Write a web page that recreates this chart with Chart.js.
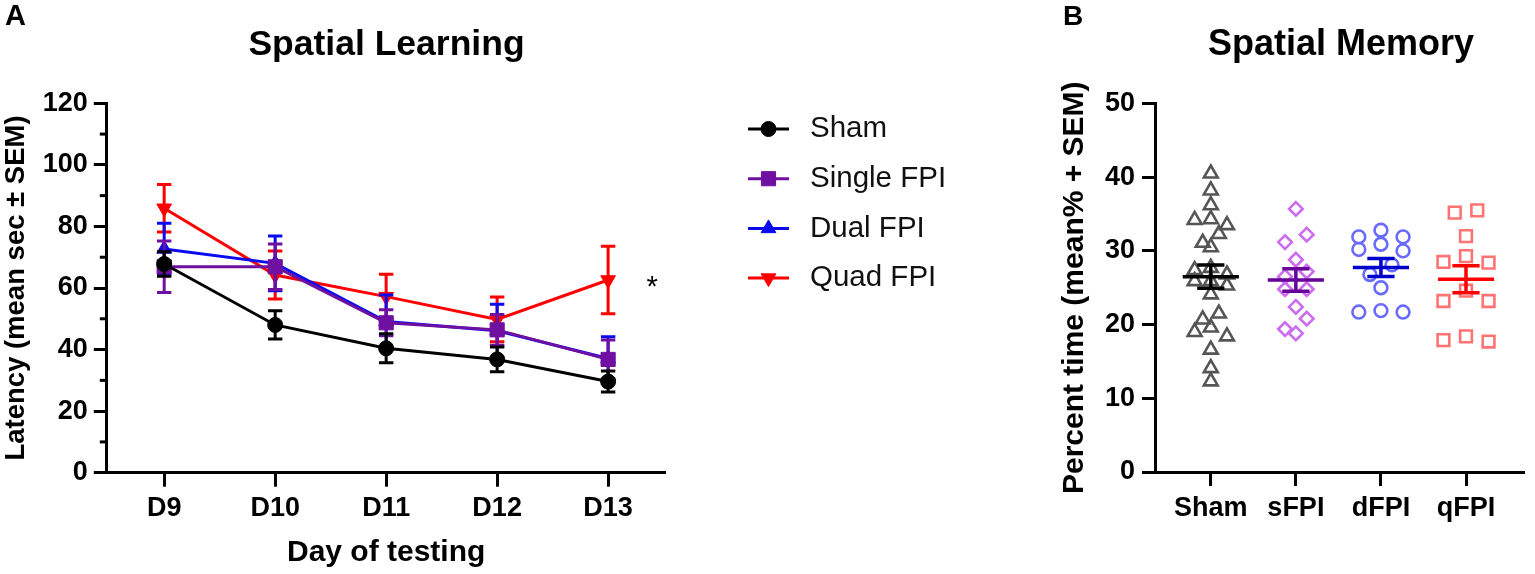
<!DOCTYPE html>
<html>
<head>
<meta charset="utf-8">
<script src="https://cdn.jsdelivr.net/npm/chart.js@4.4.1/dist/chart.umd.min.js"></script>
<style>
html,body{margin:0;padding:0;background:#fff;overflow:hidden}
#wrap{position:relative;width:1535px;height:574px;background:#fff}
#cA{position:absolute;left:0;top:0;width:1010px;height:574px}
#cB{position:absolute;left:1010px;top:0;width:525px;height:574px}
</style>
</head>
<body>
<div id="wrap">
<canvas id="cA" width="1010" height="574"></canvas>
<canvas id="cB" width="525" height="574"></canvas>
</div>
<script>
// ---------------- DATA: Panel A (Spatial Learning) ----------------
const days = ['D9', 'D10', 'D11', 'D12', 'D13'];
const learnSeries = ['Sham', 'Single FPI', 'Dual FPI', 'Quad FPI'];
const shamLatency   = [67.8, 48.0, 40.4, 36.8, 29.6];
const shamSem       = [4.0, 4.6, 4.7, 4.0, 3.4];
const singleLatency = [66.9, 66.9, 48.7, 46.4, 36.8];
const singleSem     = [8.4, 7.4, 4.2, 5.0, 6.3];
const dualLatency   = [72.7, 68.0, 49.1, 46.1, 37.1];
const dualSem       = [8.3, 8.9, 8.6, 8.6, 7.1];
const quadLatency   = [85.9, 64.2, 57.2, 49.8, 62.6];
const quadSem       = [7.7, 7.8, 7.3, 7.3, 11.0];
const latencyTicks  = [0, 20, 40, 60, 80, 100, 120];

// ---------------- DATA: Panel B (Spatial Memory) ----------------
const memGroups = ['Sham', 'sFPI', 'dFPI', 'qFPI'];
const shamPct = [40.5, 38.2, 36.2, 34.3, 34.2, 33.5, 32.3, 31.1, 30.5, 27.7, 27.4, 26.8,
                 25.9, 25.9, 25.3, 24.1, 21.5, 20.7, 19.6, 19.0, 18.4, 16.6, 14.1, 12.3];
const sfpiPct = [35.7, 32.2, 31.2, 28.8, 27.2, 26.5, 24.8, 24.8, 22.4, 20.8, 19.4, 18.8];
const dfpiPct = [32.8, 31.9, 31.9, 30.9, 30.2, 30.0, 28.1, 26.8, 25.0, 21.9, 21.7, 21.7];
const qfpiPct = [35.5, 35.2, 32.0, 29.3, 28.5, 28.4, 24.6, 23.2, 23.2, 18.4, 17.9, 17.7];
const percentTicks = [0, 10, 20, 30, 40, 50];

// ---------------- styles ----------------
const FONT = "'Liberation Sans', Arial, Helvetica, sans-serif";
const learnMeans = [shamLatency, singleLatency, dualLatency, quadLatency];
const learnSems = [shamSem, singleSem, dualSem, quadSem];
const learnColors = ['#000000', '#7010A0', '#0A0AF0', '#FF0000'];
const learnStyles = [
  {pointStyle: 'circle', radius: 7.5, rotation: 0},
  {pointStyle: 'rect', radius: 10, rotation: 0},
  {pointStyle: 'triangle', radius: 8.5, rotation: 0},
  {pointStyle: 'triangle', radius: 8.5, rotation: 180}
];
const memValues = [shamPct, sfpiPct, dfpiPct, qfpiPct];
const memPointColors = ['#555555', '#CC6CF0', '#6A6AFF', '#FF7373'];
const memMeanColors = ['#000000', '#660099', '#0000CC', '#FF0000'];
const memStyles = [
  {pointStyle: 'triangle', radius: 8},
  {pointStyle: 'rectRot', radius: 6.8},
  {pointStyle: 'circle', radius: 6.4},
  {pointStyle: 'rect', radius: 8.3}
];
const memSpread = [0.19, 0.255, 0.26, 0.265]; // column spacing (category units)
const ROW_TOL = 1.45;

// ---------------- helpers ----------------
function mean(a) { return a.reduce((s, v) => s + v, 0) / a.length; }
function sem(a) {
  const m = mean(a);
  const sd = Math.sqrt(a.reduce((s, v) => s + (v - m) * (v - m), 0) / (a.length - 1));
  return sd / Math.sqrt(a.length);
}
function swarm(vals, g, step) {
  const sorted = vals.slice().sort((a, b) => b - a);
  const rows = [];
  let cur = null;
  sorted.forEach(v => {
    if (cur && cur[0] - v < ROW_TOL) cur.push(v);
    else { cur = [v]; rows.push(cur); }
  });
  const pts = [];
  rows.forEach(r => {
    const n = r.length;
    r.forEach((v, k) => {
      let s;
      if (n % 2 === 1) s = Math.ceil(k / 2) * (k % 2 ? -1 : 1);
      else s = (Math.floor(k / 2) + 0.5) * (k % 2 ? -1 : 1);
      pts.push({x: g + s * step, y: v});
    });
  });
  return pts;
}
function drawMarker(ctx, style, x, y, fill, stroke, bw) {
  ctx.save();
  ctx.fillStyle = fill; ctx.strokeStyle = stroke; ctx.lineWidth = bw;
  if (Chart.helpers && Chart.helpers.drawPoint) {
    Chart.helpers.drawPoint(ctx, {pointStyle: style.pointStyle, radius: style.radius, rotation: style.rotation || 0, borderWidth: bw}, x, y);
  }
  ctx.restore();
}

// ---------------- Panel A ----------------
const plugA = {
  id: 'plugA',
  beforeDatasetDraw(chart, args) {
    const i = args.index;
    const xs = chart.scales.x, ys = chart.scales.y, ctx = chart.ctx;
    ctx.save();
    ctx.strokeStyle = learnColors[i];
    ctx.lineWidth = 3;
    learnMeans[i].forEach((m, k) => {
      const px = xs.getPixelForValue(k);
      const t = ys.getPixelForValue(m + learnSems[i][k]);
      const b = ys.getPixelForValue(m - learnSems[i][k]);
      ctx.beginPath();
      ctx.moveTo(px, t); ctx.lineTo(px, b);
      ctx.moveTo(px - 7.2, t); ctx.lineTo(px + 7.2, t);
      ctx.moveTo(px - 7.2, b); ctx.lineTo(px + 7.2, b);
      ctx.stroke();
    });
    ctx.restore();
  },
  afterDraw(chart) {
    const ctx = chart.ctx, xs = chart.scales.x, ys = chart.scales.y;
    const area = chart.chartArea;
    ctx.save();
    // minor ticks
    ctx.strokeStyle = '#000'; ctx.lineWidth = 3;
    for (let k = 0; k < latencyTicks.length - 1; k++) {
      const v = (latencyTicks[k] + latencyTicks[k + 1]) / 2;
      const py = ys.getPixelForValue(v);
      ctx.beginPath(); ctx.moveTo(area.left - 7, py); ctx.lineTo(area.left, py); ctx.stroke();
    }
    // panel letter & title
    ctx.fillStyle = '#000';
    ctx.textBaseline = 'alphabetic';
    ctx.textAlign = 'left';
    ctx.font = `bold 29px ${FONT}`;
    ctx.fillText('A', 5, 25);
    ctx.textAlign = 'center';
    ctx.font = `bold 35.5px ${FONT}`;
    ctx.fillText('Spatial Learning', 386.5, 55);
    // significance asterisk next to Quad FPI D13
    ctx.font = `29px ${FONT}`;
    ctx.fillText('*', xs.getPixelForValue(days.length - 1) + 44, ys.getPixelForValue(quadLatency[days.length - 1]) + 16);
    // legend
    learnSeries.forEach((name, i) => {
      const yy = 129 + i * 49.7;
      ctx.strokeStyle = learnColors[i]; ctx.lineWidth = 3;
      ctx.beginPath(); ctx.moveTo(748, yy); ctx.lineTo(789, yy); ctx.stroke();
      drawMarker(ctx, learnStyles[i], 768.5, yy, learnColors[i], learnColors[i], 1);
      ctx.fillStyle = '#111';
      ctx.textAlign = 'left'; ctx.textBaseline = 'middle';
      ctx.font = `29.5px ${FONT}`;
      ctx.fillText(name, 810, yy);
    });
    ctx.restore();
  }
};

const chartA = new Chart(document.getElementById('cA'), {
  type: 'line',
  data: {
    datasets: learnSeries.map((name, i) => ({
      label: name,
      data: learnMeans[i].map((v, k) => ({x: k, y: v})),
      borderColor: learnColors[i],
      backgroundColor: learnColors[i],
      borderWidth: 3,
      pointStyle: learnStyles[i].pointStyle,
      pointRadius: learnStyles[i].radius,
      pointRotation: learnStyles[i].rotation,
      pointBackgroundColor: learnColors[i],
      pointBorderColor: learnColors[i],
      pointBorderWidth: 1,
      tension: 0,
      clip: false
    }))
  },
  options: {
    responsive: false,
    animation: false,
    events: [],
    layout: {padding: {left: 0, top: 103.3, right: 344.5, bottom: 0}},
    plugins: {legend: {display: false}, tooltip: {enabled: false}},
    scales: {
      x: {
        type: 'linear',
        min: -0.517, max: days.length - 1 + 0.517,
        afterBuildTicks: s => { s.ticks = days.map((d, k) => ({value: k})); },
        afterFit: s => { s.height = 101.3; },
        border: {display: true, width: 3, color: '#000'},
        grid: {drawOnChartArea: false, drawTicks: true, tickLength: 14, tickWidth: 3, tickColor: '#000', color: '#000'},
        ticks: {
          callback: v => days[v],
          color: '#000', padding: 6, maxRotation: 0, autoSkip: false,
          font: {family: FONT, size: 27, weight: 'bold'}
        },
        title: {
          display: true, text: 'Day of testing', color: '#000',
          font: {family: FONT, size: 30, weight: 'bold'},
          padding: {top: 0, bottom: 3}
        }
      },
      y: {
        type: 'linear',
        min: latencyTicks[0], max: latencyTicks[latencyTicks.length - 1],
        afterBuildTicks: s => { s.ticks = latencyTicks.map(v => ({value: v})); },
        afterFit: s => { s.width = 106.8; },
        border: {display: true, width: 3, color: '#000'},
        grid: {drawOnChartArea: false, drawTicks: true, tickLength: 13, tickWidth: 3, tickColor: '#000', color: '#000'},
        ticks: {
          color: '#000', padding: 6,
          font: {family: FONT, size: 27, weight: 'bold'}
        },
        title: {
          display: true, text: 'Latency (mean sec \u00B1 SEM)', color: '#000',
          font: {family: FONT, size: 27.5, weight: 'bold'},
          padding: {top: 0, bottom: 0}
        }
      }
    }
  },
  plugins: [plugA]
});

// ---------------- Panel B ----------------
const memMeans = memValues.map(mean);
const memSems = memValues.map(sem);

const plugB = {
  id: 'plugB',
  afterDatasetsDraw(chart) {
    const ctx = chart.ctx, xs = chart.scales.x, ys = chart.scales.y;
    ctx.save();
    ctx.lineWidth = 3.5;
    memGroups.forEach((g, i) => {
      const m = memMeans[i], s = memSems[i];
      const pm = ys.getPixelForValue(m), pt = ys.getPixelForValue(m + s), pb = ys.getPixelForValue(m - s);
      ctx.strokeStyle = memMeanColors[i];
      ctx.beginPath();
      ctx.moveTo(xs.getPixelForValue(i - 0.33), pm); ctx.lineTo(xs.getPixelForValue(i + 0.33), pm);
      ctx.moveTo(xs.getPixelForValue(i), pt); ctx.lineTo(xs.getPixelForValue(i), pb);
      ctx.moveTo(xs.getPixelForValue(i - 0.16), pt); ctx.lineTo(xs.getPixelForValue(i + 0.16), pt);
      ctx.moveTo(xs.getPixelForValue(i - 0.16), pb); ctx.lineTo(xs.getPixelForValue(i + 0.16), pb);
      ctx.stroke();
    });
    ctx.restore();
  },
  afterDraw(chart) {
    const ctx = chart.ctx;
    ctx.save();
    ctx.fillStyle = '#000';
    ctx.textBaseline = 'alphabetic';
    ctx.textAlign = 'left';
    ctx.font = `bold 28px ${FONT}`;
    ctx.fillText('B', 53, 25);
    ctx.textAlign = 'center';
    ctx.font = `bold 36px ${FONT}`;
    ctx.fillText('Spatial Memory', 331, 55);
    ctx.restore();
  }
};

const chartB = new Chart(document.getElementById('cB'), {
  type: 'scatter',
  data: {
    datasets: memGroups.map((g, i) => ({
      label: g,
      data: swarm(memValues[i], i, memSpread[i]),
      showLine: false,
      pointStyle: memStyles[i].pointStyle,
      pointRadius: memStyles[i].radius,
      pointBorderColor: memPointColors[i],
      pointBackgroundColor: 'rgba(0,0,0,0)',
      pointBorderWidth: 2.6,
      clip: false
    }))
  },
  options: {
    responsive: false,
    animation: false,
    events: [],
    layout: {padding: {left: 46.5, top: 103.5, right: 5, bottom: 0}},
    plugins: {legend: {display: false}, tooltip: {enabled: false}},
    scales: {
      x: {
        type: 'linear',
        min: -0.656, max: memGroups.length - 1 + 0.683,
        afterBuildTicks: s => { s.ticks = memGroups.map((g, k) => ({value: k})); },
        afterFit: s => { s.height = 102; },
        border: {display: true, width: 3, color: '#000'},
        grid: {drawOnChartArea: false, drawTicks: true, tickLength: 14, tickWidth: 3, tickColor: '#000', color: '#000'},
        ticks: {
          callback: v => memGroups[v],
          color: '#000', padding: 6, maxRotation: 0, autoSkip: false,
          font: {family: FONT, size: 27, weight: 'bold'}
        }
      },
      y: {
        type: 'linear',
        min: percentTicks[0], max: percentTicks[percentTicks.length - 1],
        afterBuildTicks: s => { s.ticks = percentTicks.map(v => ({value: v})); },
        afterFit: s => { s.width = 98.5; },
        border: {display: true, width: 3, color: '#000'},
        grid: {drawOnChartArea: false, drawTicks: true, tickLength: 13, tickWidth: 3, tickColor: '#000', color: '#000'},
        ticks: {
          color: '#000', padding: 7,
          font: {family: FONT, size: 27, weight: 'bold'}
        },
        title: {
          display: true, text: 'Percent time (mean% + SEM)', color: '#000',
          font: {family: FONT, size: 30, weight: 'bold'},
          padding: {top: 0, bottom: 0}
        }
      }
    }
  },
  plugins: [plugB]
});
</script>
</body>
</html>
